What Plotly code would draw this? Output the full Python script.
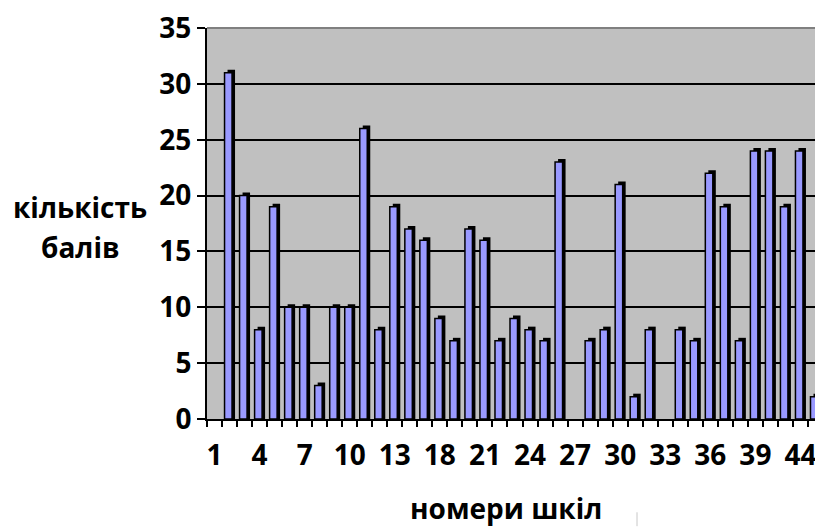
import plotly.graph_objects as go

# ---- data ----
schools = ["1", "2", "3", "4", "5", "6", "7", "8", "9", "10", "11", "12", "13",
           "15", "17",
           "18", "19", "20", "21", "22", "23", "24", "25", "26", "27", "28", "29",
           "30", "31", "32", "33", "34", "35", "36", "37", "38", "39",
           "41", "43", "44", "45"]
scores = [0, 31, 20, 8, 19, 10, 10, 3, 10, 10,
          26, 8, 19, 17, 16, 9, 7, 17, 16, 7,
          9, 8, 7, 23, 0, 7, 8, 21, 2, 8,
          0, 8, 7, 22, 19, 7, 24, 24, 19, 24,
          2]
tick_labels = ["1", "4", "7", "10", "13", "18", "21", "24", "27", "30", "33", "36", "39", "44"]
y_ticks = [0, 5, 10, 15, 20, 25, 30, 35]

# ---- layout constants (page body has an 8px margin, so the figure is 8px smaller) ----
BODY = 8
W, H = 823 - BODY, 529 - BODY
ML, MR, MT, MB = 207 - BODY, 0, 25 - BODY, 110
plot_w = W - ML - MR
plot_h = H - MT - MB
n = len(schools)
ux = n / plot_w          # x units per pixel
uy = 35 / plot_h         # y units per pixel

pos = list(range(1, n + 1))
tick_pos = [schools.index(t) + 1 for t in tick_labels]

front_y = [v if v > 0 else None for v in scores]
depth_y = [v + 3 * uy if v > 0 else None for v in scores]

FONT = "Open Sans"

fig = go.Figure()
# depth (3D side/top) drawn behind the front face
fig.add_trace(go.Bar(
    x=pos, y=depth_y, width=7.5 * ux, offset=-2 * ux,
    marker=dict(color="black", line=dict(width=0)),
    hoverinfo="skip", showlegend=False,
))
fig.add_trace(go.Bar(
    x=pos, y=front_y, width=7.5 * ux, offset=-5 * ux,
    marker=dict(color="#9999FF", line=dict(color="black", width=1.5)),
    showlegend=False,
))

fig.update_layout(
    width=W, height=H,
    margin=dict(l=ML, r=MR, t=MT, b=MB, pad=0),
    paper_bgcolor="white",
    plot_bgcolor="#C0C0C0",
    barmode="overlay",
    font=dict(family=FONT, color="black"),
    showlegend=False,
)

tick_font = dict(family=FONT, size=28, color="black", weight="bold")

fig.update_xaxes(
    range=[0.5, n + 0.5],
    tickmode="array", tickvals=tick_pos, ticktext=tick_labels,
    ticks="", showgrid=False, zeroline=False,
    showline=True, linecolor="black", linewidth=2,
    tickfont=tick_font,
    minor=dict(tickmode="linear", tick0=0.5, dtick=1, ticks="outside",
               ticklen=6, tickwidth=2, tickcolor="black", showgrid=False),
    ticklabelstandoff=10,
    ticklabeloverflow="allow",
)
fig.update_yaxes(
    range=[0, 35],
    tickmode="array", tickvals=y_ticks,
    ticks="outside", ticklen=8, tickwidth=2, tickcolor="black",
    showgrid=True, gridcolor="black", gridwidth=2,
    zeroline=False,
    showline=True, linecolor="black", linewidth=2,
    tickfont=tick_font,
    ticklabelstandoff=0,
    ticklabeloverflow="allow",
)

# top border of the plot area (gray)
fig.add_shape(type="line", xref="paper", yref="paper", x0=0, x1=1, y0=1, y1=1,
              line=dict(color="#808080", width=2), layer="above")


def px_x(p):
    return (p - BODY - ML) / plot_w


def px_y(p):
    return (H - MB - (p - BODY)) / plot_h


# small light gray stroke to the right of the x-axis title
fig.add_shape(type="line", xref="paper", yref="paper",
              x0=px_x(637), x1=px_x(637), y0=px_y(513), y1=px_y(527),
              line=dict(color="#C8C8C8", width=1))

title_font = dict(family=FONT, size=28, color="black", weight="bold")
fig.add_annotation(text="кількість", xref="paper", yref="paper",
                   x=px_x(80), y=px_y(205), xanchor="center", yanchor="middle",
                   showarrow=False, font=title_font)
fig.add_annotation(text="балів", xref="paper", yref="paper",
                   x=px_x(80), y=px_y(246), xanchor="center", yanchor="middle",
                   showarrow=False, font=title_font)
fig.add_annotation(text="номери шкіл", xref="paper", yref="paper",
                   x=px_x(506), y=px_y(509), xanchor="center", yanchor="middle",
                   showarrow=False, font=title_font)

fig.write_html("out.html")
